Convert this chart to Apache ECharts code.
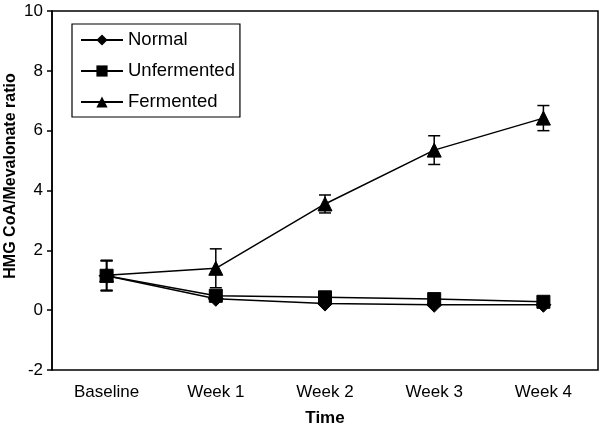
<!DOCTYPE html>
<html><head><meta charset="utf-8">
<script src="https://cdn.jsdelivr.net/npm/echarts@6/dist/echarts.min.js"></script>
<style>html,body{margin:0;padding:0;background:#fff}#c{width:600px;height:428px}</style>
</head><body><div id="c"></div>
<script>
const categories = ['Baseline', 'Week 1', 'Week 2', 'Week 3', 'Week 4'];
const normal = [1.15, 0.38, 0.22, 0.18, 0.18];
const normalErr = [0.5, 0.05, 0.05, 0.05, 0.05];
const unfermented = [1.15, 0.48, 0.43, 0.37, 0.28];
const unfermentedErr = [0.5, 0.05, 0.05, 0.05, 0.05];
const fermented = [1.17, 1.4, 3.55, 5.35, 6.42];
const fermentedErr = [0.5, 0.65, 0.3, 0.48, 0.42];
const yTicks = [-2, 0, 2, 4, 6, 8, 10];
const yTitle = 'HMG CoA/Mevalonate ratio';

const font = 'Liberation Sans, Arial, Helvetica, sans-serif';

function errSeries(name, vals, errs) {
  return {
    type: 'custom', name: name + ' err', silent: true, z: 3,
    data: vals.map((v, i) => [i, v - errs[i], v + errs[i]]),
    renderItem: function (params, api) {
      const lo = api.coord([api.value(0), api.value(1)]);
      const hi = api.coord([api.value(0), api.value(2)]);
      const w = 6;
      const st = { stroke: '#000', lineWidth: 1.5 };
      return { type: 'group', children: [
        { type: 'line', shape: { x1: lo[0], y1: lo[1], x2: hi[0], y2: hi[1] }, style: st },
        { type: 'line', shape: { x1: lo[0] - w, y1: lo[1], x2: lo[0] + w, y2: lo[1] }, style: st },
        { type: 'line', shape: { x1: hi[0] - w, y1: hi[1], x2: hi[0] + w, y2: hi[1] }, style: st }
      ]};
    }
  };
}
function lineSeries(name, vals, symbol, size) {
  return {
    type: 'line', name: name, data: vals, symbol: symbol, symbolSize: size,
    showAllSymbol: true, z: 4,
    lineStyle: { color: '#000', width: 1.5 },
    itemStyle: { color: '#000', borderColor: '#000' },
    emphasis: { disabled: true }
  };
}
const chart = echarts.init(document.getElementById('c'), null, { renderer: 'canvas' });
chart.setOption({
  animation: false,
  backgroundColor: '#fff',
  grid: { left: 52, right: 2, top: 11, bottom: 58, containLabel: false, outerBoundsMode: 'none',
    show: true, borderColor: '#000', borderWidth: 1.5, backgroundColor: 'transparent' },
  legend: {
    orient: 'vertical', left: 72, top: 24, padding: [6, 5, 5, 8],
    borderColor: '#000', borderWidth: 1.2, backgroundColor: '#fff',
    itemWidth: 42, itemHeight: 14, itemGap: 11,
    data: ['Normal', 'Unfermented', 'Fermented'],
    textStyle: { fontFamily: font, fontSize: 18.5, lineHeight: 20, color: '#000', padding: [0, 0, 0, 0] }
  },
  graphic: [{
    type: 'text', x: 11, y: 176, rotation: Math.PI / 2,
    style: { text: yTitle, font: 'bold 16px ' + font, fill: '#000', align: 'center', verticalAlign: 'middle' }
  }],
  xAxis: {
    type: 'category', data: categories, boundaryGap: true,
    axisLine: { show: false }, axisTick: { show: false },
    axisLabel: { fontFamily: font, fontSize: 17, color: '#000', margin: 14 },
    name: 'Time', nameLocation: 'middle', nameGap: 40, nameMoveOverlap: false,
    nameTextStyle: { fontFamily: font, fontSize: 17, fontWeight: 'bold', color: '#000' }
  },
  yAxis: {
    type: 'value', min: -2, max: 10, interval: 2,
    splitLine: { show: false },
    axisLine: { show: true, lineStyle: { color: '#000', width: 1.5 } },
    axisTick: { show: true, length: 5, lineStyle: { color: '#000', width: 1.5 } },
    axisLabel: { fontFamily: font, fontSize: 17, color: '#000', margin: 9,
      formatter: v => yTicks.includes(v) ? String(v) : '' }
  },
  series: [
    errSeries('Normal', normal, normalErr),
    errSeries('Unfermented', unfermented, unfermentedErr),
    errSeries('Fermented', fermented, fermentedErr),
    lineSeries('Normal', normal, 'diamond', 15),
    lineSeries('Unfermented', unfermented, 'rect', 13),
    lineSeries('Fermented', fermented, 'triangle', 14)
  ]
});
</script></body></html>
